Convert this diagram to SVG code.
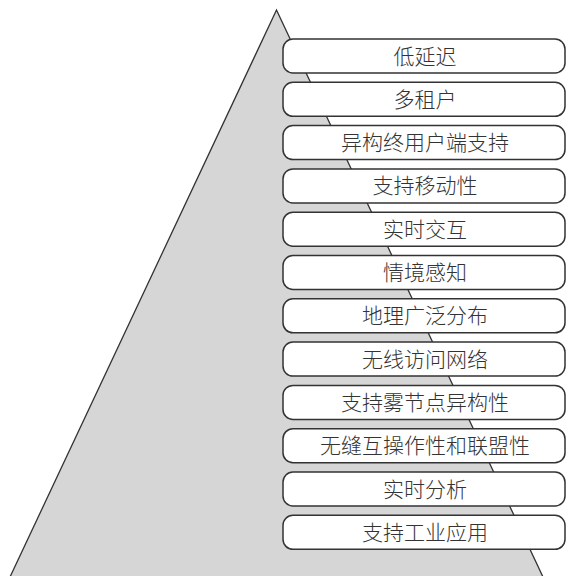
<svg xmlns="http://www.w3.org/2000/svg" width="567" height="576" viewBox="0 0 567 576">
<style>
.tri{fill:#d6d6d6;stroke:#333;stroke-width:1.3}
.box rect{fill:#fff;stroke:#333;stroke-width:1.5}
.box text{font-family:"Noto Sans CJK SC","Noto Sans",sans-serif;font-size:21px;font-weight:300;fill:#333;text-anchor:middle}
</style>
<rect width="567" height="576" fill="#fff"/>
<g id="pyramid"><polygon class="tri" points="276.5,10 543,577 10,577"/></g>
<g id="n1" class="box"><rect x="283" y="39" width="282" height="34" rx="10"/><text x="425" y="63.5">低延迟</text></g>
<g id="n2" class="box"><rect x="283" y="82.3" width="282" height="34" rx="10"/><text x="425" y="106.8">多租户</text></g>
<g id="n3" class="box"><rect x="283" y="125.6" width="282" height="34" rx="10"/><text x="425" y="150.1">异构终用户端支持</text></g>
<g id="n4" class="box"><rect x="283" y="168.9" width="282" height="34" rx="10"/><text x="425" y="193.4">支持移动性</text></g>
<g id="n5" class="box"><rect x="283" y="212.2" width="282" height="34" rx="10"/><text x="425" y="236.7">实时交互</text></g>
<g id="n6" class="box"><rect x="283" y="255.5" width="282" height="34" rx="10"/><text x="425" y="280">情境感知</text></g>
<g id="n7" class="box"><rect x="283" y="298.8" width="282" height="34" rx="10"/><text x="425" y="323.3">地理广泛分布</text></g>
<g id="n8" class="box"><rect x="283" y="342.1" width="282" height="34" rx="10"/><text x="425" y="366.6">无线访问网络</text></g>
<g id="n9" class="box"><rect x="283" y="385.4" width="282" height="34" rx="10"/><text x="425" y="409.9">支持雾节点异构性</text></g>
<g id="n10" class="box"><rect x="283" y="428.7" width="282" height="34" rx="10"/><text x="425" y="453.2">无缝互操作性和联盟性</text></g>
<g id="n11" class="box"><rect x="283" y="472" width="282" height="34" rx="10"/><text x="425" y="496.5">实时分析</text></g>
<g id="n12" class="box"><rect x="283" y="515.3" width="282" height="34" rx="10"/><text x="425" y="539.8">支持工业应用</text></g>
<g id="connectors"/>
</svg>
